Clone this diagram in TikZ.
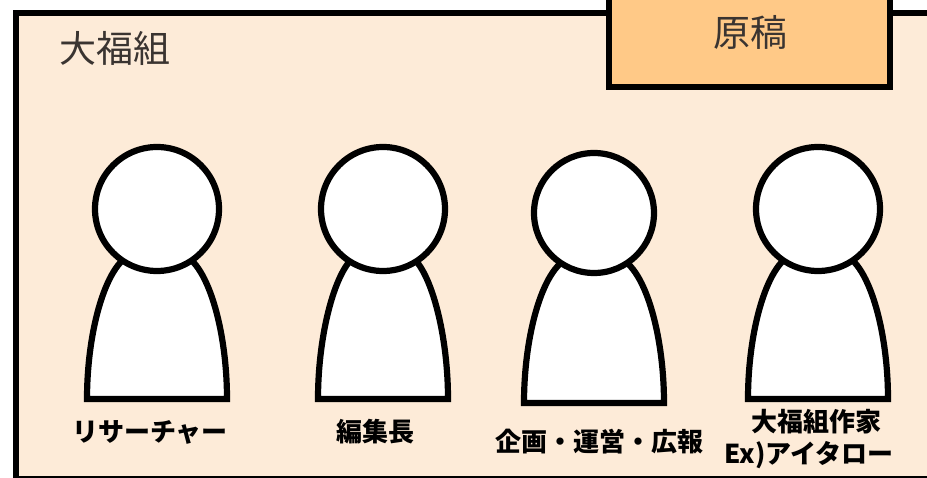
\documentclass[tikz,border=0pt]{standalone}
\usepackage{fontspec}
\setmainfont{Noto Sans CJK JP}
\definecolor{panelfill}{HTML}{FDEBD8}
\definecolor{draftfill}{HTML}{FFC987}
\definecolor{soft}{HTML}{3A3431}
\tikzset{
  panel/.style={draw=black,line width=6.5pt,fill=panelfill},
  draftbox/.style={draw=black,line width=6.5pt,fill=draftfill},
  personpart/.style={draw=black,line width=6.2pt,fill=white,line join=miter},
  heading/.style={text=soft,font=\fontsize{37}{37}\selectfont,inner sep=0pt},
  caption/.style={text=black,font=\fontsize{26}{30}\selectfont\bfseries,inner sep=0pt,align=center}
}
% #1 name, #2 centre x, #3 head centre y, #4 head radius, #5 half width, #6 base y
\newcommand{\personfig}[6]{%
  \draw[personpart] (#2-#5,#6) .. controls (#2-#5,#6-70) and (#2-#5+20,#3+50) .. (#2-22,#3+44)
     -- (#2+22,#3+44) .. controls (#2+#5-20,#3+50) and (#2+#5,#6-70) .. (#2+#5,#6) -- cycle;
  \node[personpart,circle,minimum size=2*#4 pt,inner sep=0pt] (#1) at (#2,#3) {};
}
\begin{document}
\begin{tikzpicture}[x=1pt,y=-1pt]
\useasboundingbox (0,0) rectangle (927,478);
\fill[white] (0,0) rectangle (927,478);
\draw[panel] (16,13) -- (940,13) -- (940,479) -- (16,479) -- cycle;
\draw[draftbox] (609,-10) rectangle (890,87);
\node[heading] (team) at (115,48) {大福組};
\node[heading] (draft) at (750,32) {原稿};
\personfig{p1}{157}{209}{62}{70}{399}
\personfig{p2}{383}{209}{62}{65}{399}
\personfig{p3}{594}{213}{60}{70}{403}
\personfig{p4}{818}{209}{62}{70}{399}
\node[caption] (c1) at (150,432) {リサーチャー};
\node[caption] (c2) at (375,432) {編集長};
\node[caption] (c3) at (599,442) {企画・運営・広報};
\node[caption] (c4) at (816,422) {大福組作家};
\node[caption] (c5) at (809,455) {Ex)アイタロー};
\end{tikzpicture}
\end{document}
